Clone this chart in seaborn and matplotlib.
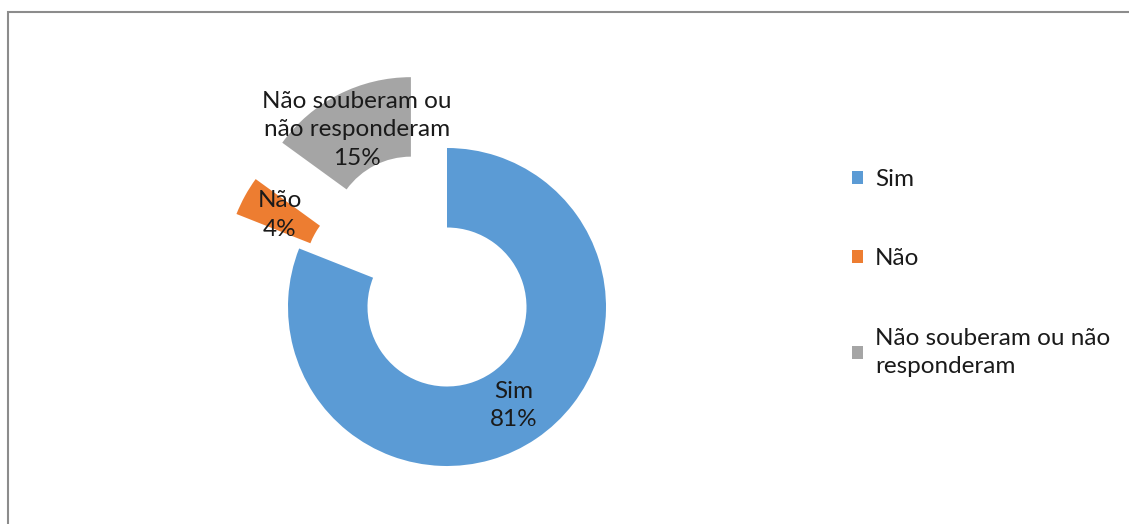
import matplotlib
matplotlib.use("Agg")
import matplotlib.pyplot as plt
from matplotlib.patches import Rectangle
import seaborn as sns

categorias = ["Sim", "Não", "Não souberam ou não responderam"]
valores = [81, 4, 15]
rotulos_fatia = ["Sim", "Não", "Não souberam ou\nnão responderam"]
rotulos_legenda = ["Sim", "Não", "Não souberam ou não\nresponderam"]
cores = ["#5B9BD5", "#ED7D31", "#A5A5A5"]
destaque = [0, 0.45, 0.5]

sns.set_theme(style="white")
plt.rcParams["font.family"] = ["Lato", "DejaVu Sans"]

W, H = 1129, 524
fig = plt.figure(figsize=(W / 100, H / 100), dpi=100)

# eixo quadrado centrado no donut (centro ~ (447, 307) px, raio ~159 px)
lado = 3.6 * 159
cx, cy = 447, H - 307
ax = fig.add_axes([(cx - lado / 2) / W, (cy - lado / 2) / H, lado / W, lado / H])

textos = [f"{r}\n{v}%" for r, v in zip(rotulos_fatia, valores)]
wedges, _ = ax.pie(
    valores,
    labels=textos,
    colors=cores,
    explode=destaque,
    startangle=90,
    counterclock=False,
    labeldistance=0.75,
    wedgeprops=dict(width=0.5, linewidth=0),
    textprops=dict(ha="center", va="center", fontsize=17.5, color="#1a1a1a",
                   linespacing=1.45),
)
ax.set_xlim(-1.8, 1.8)
ax.set_ylim(-1.8, 1.8)
ax.set_aspect("equal")
ax.axis("off")

leg = fig.legend(
    wedges, rotulos_legenda,
    loc="upper left", bbox_to_anchor=(830 / W, 1 - 147 / H),
    frameon=False, fontsize=17.5,
    handlelength=0.45, handleheight=0.45, handletextpad=0.5,
    labelspacing=2.4, labelcolor="#1a1a1a",
)
for t in leg.get_texts():
    t.set_linespacing(1.45)

# moldura da área do gráfico
fig.patches.append(Rectangle((8 / W, -0.05), 1.1, 1 - 12 / H + 0.05,
                             transform=fig.transFigure, fill=False,
                             edgecolor="#8c8c8c", linewidth=1.5))

fig.savefig("out.png", dpi=100)
